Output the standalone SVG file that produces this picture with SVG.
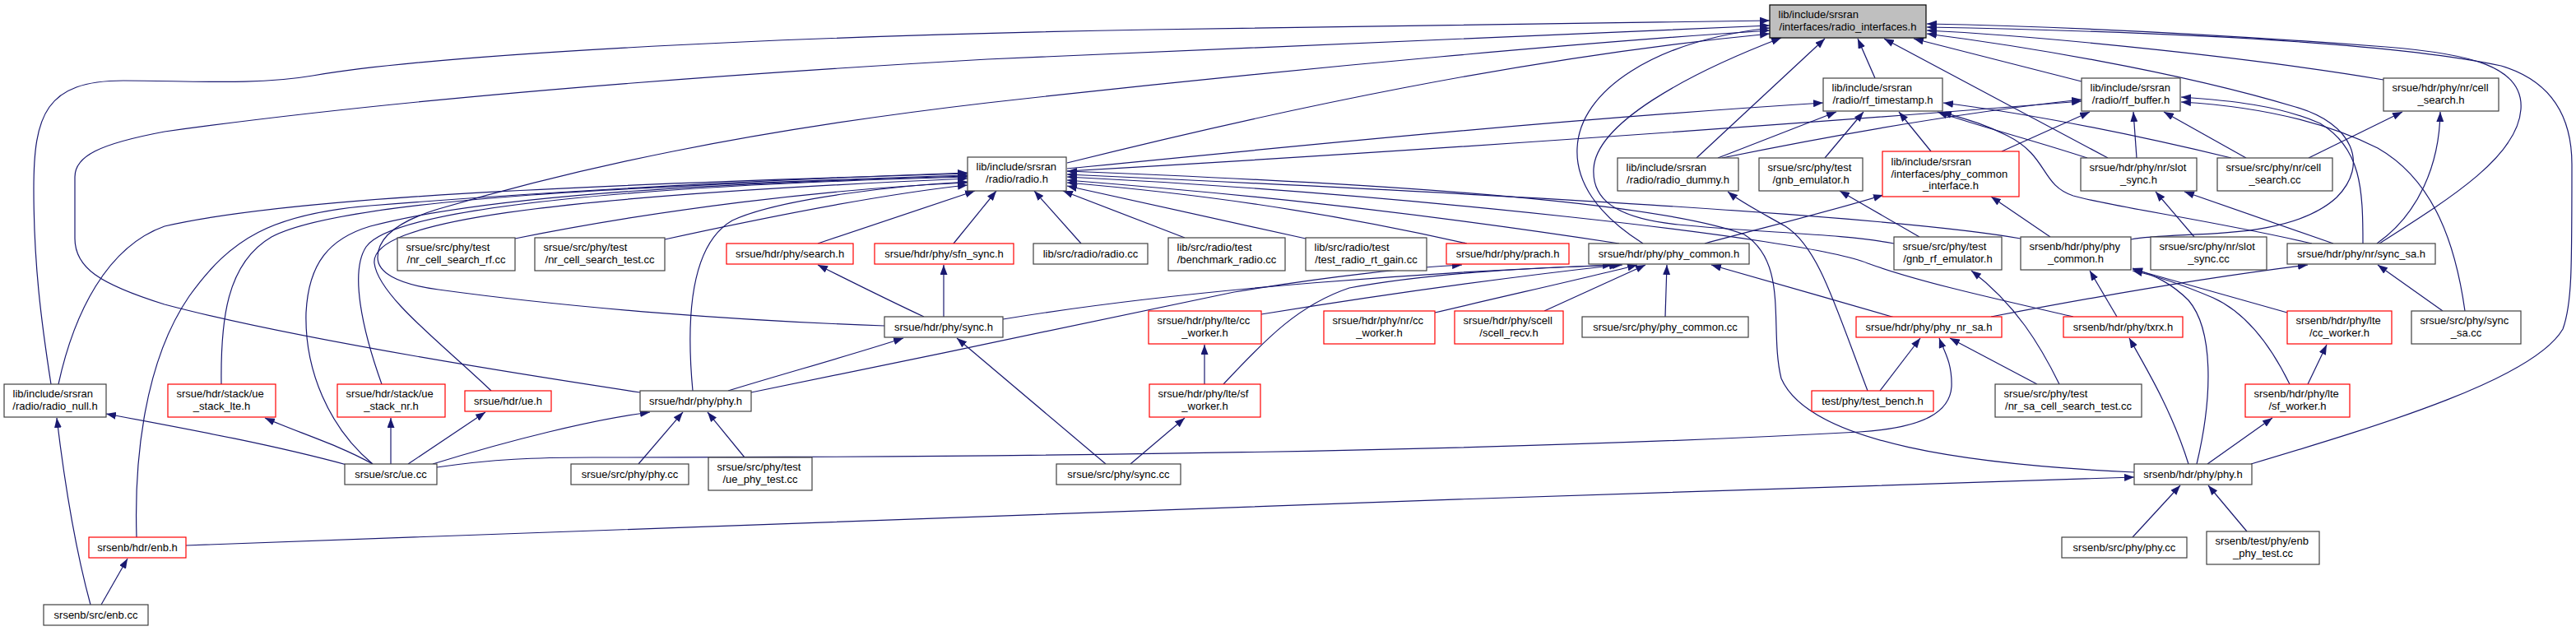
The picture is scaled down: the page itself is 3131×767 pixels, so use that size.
<svg xmlns="http://www.w3.org/2000/svg" width="3131" height="767" viewBox="0 0 3131 767">
<style>
.node rect{fill:#fff;stroke:#404040;stroke-width:1.2}
.node.red rect{stroke:#ff0000}
.node.root rect{fill:#bfbfbf;stroke:#000}
.node text{font-family:"Liberation Sans",Arial,sans-serif;font-size:13px;fill:#000}
.l{text-anchor:start}
.c{text-anchor:middle}
#edges path{fill:none;stroke:#191970;stroke-width:1.2;marker-end:url(#a)}
</style>
<defs>
<marker id="a" markerUnits="userSpaceOnUse" markerWidth="12" markerHeight="9" viewBox="0 0 12 9" refX="12" refY="4.5" orient="auto"><path d="M0,0L12,4.5L0,9z" fill="#191970"/></marker>
</defs>
<rect width="3131" height="767" fill="#fff"/>
<g id="edges">
<path d="M62,467 C50,390 41,320 41,230 C41,140 55,98 150,98 C230,98 310,104 380,92 C520,68 900,45 1400,36 C1800,30 2000,27 2151,25"/>
<path d="M778,477 C600,450 350,410 200,370 C120,345 91,325 91,290 L91,215 C91,190 120,175 200,160 C450,125 800,95 1200,72 C1600,52 1950,38 2151,31"/>
<path d="M1075,396 C900,390 700,375 533,352 C480,345 459,330 459,313 C459,290 480,270 533,254 C700,205 900,160 1200,125 C1600,80 1950,50 2151,37"/>
<path d="M1297,198 C1550,135 1850,70 2151,41"/>
<path d="M1997,296 C1940,260 1915,220 1917,180 C1920,110 2010,50 2151,34"/>
<path d="M2302,296 C2240,284 2140,283 2040,273 C1960,265 1935,240 1937,205 C1940,150 2050,90 2165,46"/>
<path d="M2062,192 L2218,47"/>
<path d="M2279,95 L2258,47"/>
<path d="M2562,192 L2290,47"/>
<path d="M2530,99 L2326,47"/>
<path d="M2897,97 C2750,72 2500,45 2342,37"/>
<path d="M2590,291 C2650,280 2780,295 2840,240 C2880,200 2860,150 2790,130 C2640,85 2450,55 2342,41"/>
<path d="M2892,296 C2980,240 3060,190 3064,133 C3068,80 3000,65 2900,57 C2700,42 2500,32 2342,29"/>
<path d="M2736,564 C2900,515 3080,460 3115,400 C3126,370 3126,330 3126,200 C3126,130 3090,95 3040,80 C2900,50 2600,38 2342,33"/>
<path d="M1297,205 C1600,175 1900,145 2216,125"/>
<path d="M2088,192 L2232,136"/>
<path d="M2218,192 L2265,136"/>
<path d="M2347,184 L2308,136"/>
<path d="M2537,192 C2470,170 2410,155 2355,136"/>
<path d="M2810,296 C2700,270 2560,250 2520,238 C2480,225 2490,190 2440,165 C2410,150 2390,145 2360,136"/>
<path d="M2712,192 C2600,165 2480,140 2362,125"/>
<path d="M1297,208 C1700,185 2200,150 2530,123"/>
<path d="M2093,192 C2250,160 2400,135 2530,121"/>
<path d="M2433,184 L2540,136"/>
<path d="M2597,192 L2593,136"/>
<path d="M2730,192 L2630,136"/>
<path d="M2872,296 C2872,230 2870,180 2820,150 C2770,128 2710,122 2651,118"/>
<path d="M2996,378 C2985,300 2960,220 2890,180 C2810,140 2720,128 2651,124"/>
<path d="M2806,192 L2920,136"/>
<path d="M2889,296 C2940,260 2965,200 2966,136"/>
<path d="M71,467 C90,380 130,300 200,275 C350,240 700,225 1176,211"/>
<path d="M269,467 C268,390 275,320 330,288 C420,240 800,225 1176,213"/>
<path d="M464,467 C440,400 425,330 445,300 C480,250 800,225 1176,215"/>
<path d="M597,475 C540,420 460,360 455,320 C450,270 650,240 1176,217"/>
<path d="M453,564 C400,520 370,450 372,380 C375,320 400,290 450,275 C600,235 900,222 1176,214"/>
<path d="M166,653 C163,560 175,440 230,360 C280,290 330,260 450,250 C700,230 950,218 1176,210"/>
<path d="M842,475 C835,400 835,300 890,268 C950,240 1100,225 1176,221"/>
<path d="M626,290 C800,255 1000,230 1176,222"/>
<path d="M808,291 C950,260 1080,235 1176,225"/>
<path d="M994,296 L1185,232"/>
<path d="M1159,296 L1211,232"/>
<path d="M1314,296 L1257,232"/>
<path d="M1440,289 L1292,232"/>
<path d="M1587,290 L1297,226"/>
<path d="M1783,296 C1600,255 1450,235 1297,222"/>
<path d="M1968,296 C1700,255 1500,235 1297,219"/>
<path d="M2456,290 C2300,262 1800,235 1297,212"/>
<path d="M2520,385 C2420,362 2330,342 2270,320 C2200,290 1700,235 1297,215"/>
<path d="M2594,574 C2400,565 2200,540 2165,460 C2150,400 2175,320 2120,285 C2000,240 1600,220 1297,208"/>
<path d="M2270,475 C2230,370 2210,300 2170,275 C2140,258 2115,245 2100,233"/>
<path d="M2333,288 L2236,232"/>
<path d="M2072,296 C2150,275 2220,258 2289,237"/>
<path d="M2492,288 L2420,239"/>
<path d="M2503,467 C2480,420 2450,370 2396,329"/>
<path d="M2573,385 L2540,329"/>
<path d="M2780,380 L2592,327"/>
<path d="M2670,564 C2690,480 2690,400 2660,365 C2640,345 2620,335 2592,326"/>
<path d="M2783,467 C2760,420 2730,380 2690,362 C2650,345 2620,335 2592,329"/>
<path d="M1219,388 C1450,350 1750,330 1960,322"/>
<path d="M1533,382 C1700,355 1850,335 1968,322"/>
<path d="M1487,467 C1540,410 1580,370 1640,350 C1750,330 1880,325 1972,322"/>
<path d="M1744,380 C1850,355 1940,335 1990,322"/>
<path d="M1877,378 L2000,322"/>
<path d="M2024,385 L2026,322"/>
<path d="M2303,386 C2230,365 2150,342 2080,322"/>
<path d="M1147,385 L1147,322"/>
<path d="M1123,385 C1080,365 1030,340 994,322"/>
<path d="M913,477 C1100,440 1350,385 1500,355 C1620,335 1720,325 1777,322"/>
<path d="M885,475 C950,455 1040,430 1098,411"/>
<path d="M1344,564 L1163,411"/>
<path d="M1374,564 L1440,508"/>
<path d="M1464,467 L1464,419"/>
<path d="M526,564 C620,535 720,510 790,501"/>
<path d="M776,564 L830,501"/>
<path d="M905,556 L860,501"/>
<path d="M425,566 C330,540 220,520 129,503"/>
<path d="M110,735 C95,680 80,600 69,508"/>
<path d="M453,564 C410,540 360,525 322,508"/>
<path d="M475,564 L475,508"/>
<path d="M496,564 L590,501"/>
<path d="M531,568 C600,558 650,556 720,556 C1200,556 1800,550 2260,525 C2340,520 2370,500 2372,470 C2373,440 2362,425 2357,411"/>
<path d="M2285,475 L2334,411"/>
<path d="M2476,467 L2370,411"/>
<path d="M2420,385 C2550,360 2700,335 2805,322"/>
<path d="M2969,378 L2890,322"/>
<path d="M2667,288 L2620,233"/>
<path d="M2836,296 L2655,233"/>
<path d="M2660,564 C2640,500 2610,450 2588,411"/>
<path d="M2805,467 L2828,419"/>
<path d="M2683,564 L2762,508"/>
<path d="M226,663 C800,640 1800,605 2594,580"/>
<path d="M2592,653 L2650,590"/>
<path d="M2731,646 L2684,590"/>
<path d="M123,735 L155,679"/>
</g>
<g id="n1" class="node root"><rect x="2151" y="6" width="190" height="40"/><text class="l" x="2161.5" y="22">lib/include/srsran</text><text class="c" x="2246" y="37">/interfaces/radio_interfaces.h</text></g>
<g id="n2" class="node"><rect x="2216" y="95" width="145" height="40"/><text class="l" x="2226.5" y="111">lib/include/srsran</text><text class="c" x="2288.5" y="126">/radio/rf_timestamp.h</text></g>
<g id="n3" class="node"><rect x="2530" y="95" width="120" height="40"/><text class="l" x="2540.5" y="111">lib/include/srsran</text><text class="c" x="2590" y="126">/radio/rf_buffer.h</text></g>
<g id="n4" class="node"><rect x="2897" y="95" width="140" height="40"/><text class="l" x="2907.5" y="111">srsue/hdr/phy/nr/cell</text><text class="c" x="2967" y="126">_search.h</text></g>
<g id="n5" class="node"><rect x="1176" y="191" width="120" height="41"/><text class="l" x="1186.5" y="207">lib/include/srsran</text><text class="c" x="1236" y="222">/radio/radio.h</text></g>
<g id="n6" class="node"><rect x="1966" y="192" width="147" height="40"/><text class="l" x="1976.5" y="208">lib/include/srsran</text><text class="c" x="2039.5" y="223">/radio/radio_dummy.h</text></g>
<g id="n7" class="node"><rect x="2138" y="192" width="126" height="40"/><text class="l" x="2148.5" y="208">srsue/src/phy/test</text><text class="c" x="2201" y="223">/gnb_emulator.h</text></g>
<g id="n8" class="node red"><rect x="2288" y="184" width="166" height="55"/><text class="l" x="2298.5" y="201">lib/include/srsran</text><text class="l" x="2298.5" y="215.5">/interfaces/phy_common</text><text class="c" x="2371" y="230">_interface.h</text></g>
<g id="n9" class="node"><rect x="2529" y="192" width="141" height="40"/><text class="l" x="2539.5" y="208">srsue/hdr/phy/nr/slot</text><text class="c" x="2599.5" y="223">_sync.h</text></g>
<g id="n10" class="node"><rect x="2695" y="192" width="140" height="40"/><text class="l" x="2705.5" y="208">srsue/src/phy/nr/cell</text><text class="c" x="2765" y="223">_search.cc</text></g>
<g id="n11" class="node"><rect x="483" y="289" width="143" height="40"/><text class="l" x="493.5" y="305">srsue/src/phy/test</text><text class="c" x="554.5" y="320">/nr_cell_search_rf.cc</text></g>
<g id="n12" class="node"><rect x="650" y="289" width="158" height="40"/><text class="l" x="660.5" y="305">srsue/src/phy/test</text><text class="c" x="729" y="320">/nr_cell_search_test.cc</text></g>
<g id="n13" class="node red"><rect x="883" y="296" width="154" height="25"/><text class="c" x="960" y="313">srsue/hdr/phy/search.h</text></g>
<g id="n14" class="node red"><rect x="1063" y="296" width="169" height="25"/><text class="c" x="1147.5" y="313">srsue/hdr/phy/sfn_sync.h</text></g>
<g id="n15" class="node"><rect x="1256" y="296" width="139" height="25"/><text class="c" x="1325.5" y="313">lib/src/radio/radio.cc</text></g>
<g id="n16" class="node"><rect x="1420" y="289" width="142" height="40"/><text class="l" x="1430.5" y="305">lib/src/radio/test</text><text class="c" x="1491" y="320">/benchmark_radio.cc</text></g>
<g id="n17" class="node"><rect x="1587" y="289" width="147" height="40"/><text class="l" x="1597.5" y="305">lib/src/radio/test</text><text class="c" x="1660.5" y="320">/test_radio_rt_gain.cc</text></g>
<g id="n18" class="node red"><rect x="1758" y="296" width="149" height="25"/><text class="c" x="1832.5" y="313">srsue/hdr/phy/prach.h</text></g>
<g id="n19" class="node"><rect x="1931" y="296" width="195" height="25"/><text class="c" x="2028.5" y="313">srsue/hdr/phy/phy_common.h</text></g>
<g id="n20" class="node"><rect x="2302" y="288" width="131" height="40"/><text class="l" x="2312.5" y="304">srsue/src/phy/test</text><text class="c" x="2367.5" y="319">/gnb_rf_emulator.h</text></g>
<g id="n21" class="node"><rect x="2456" y="288" width="134" height="40"/><text class="l" x="2466.5" y="304">srsenb/hdr/phy/phy</text><text class="c" x="2523" y="319">_common.h</text></g>
<g id="n22" class="node"><rect x="2614" y="288" width="141" height="40"/><text class="l" x="2624.5" y="304">srsue/src/phy/nr/slot</text><text class="c" x="2684.5" y="319">_sync.cc</text></g>
<g id="n23" class="node"><rect x="2780" y="296" width="180" height="25"/><text class="c" x="2870" y="313">srsue/hdr/phy/nr/sync_sa.h</text></g>
<g id="n24" class="node"><rect x="1075" y="385" width="144" height="25"/><text class="c" x="1147" y="402">srsue/hdr/phy/sync.h</text></g>
<g id="n25" class="node red"><rect x="1396" y="378" width="137" height="40"/><text class="l" x="1406.5" y="394">srsue/hdr/phy/lte/cc</text><text class="c" x="1464.5" y="409">_worker.h</text></g>
<g id="n26" class="node red"><rect x="1609" y="378" width="135" height="40"/><text class="l" x="1619.5" y="394">srsue/hdr/phy/nr/cc</text><text class="c" x="1676.5" y="409">_worker.h</text></g>
<g id="n27" class="node red"><rect x="1768" y="378" width="132" height="40"/><text class="l" x="1778.5" y="394">srsue/hdr/phy/scell</text><text class="c" x="1834" y="409">/scell_recv.h</text></g>
<g id="n28" class="node"><rect x="1923" y="385" width="202" height="25"/><text class="c" x="2024" y="402">srsue/src/phy/phy_common.cc</text></g>
<g id="n29" class="node red"><rect x="2256" y="385" width="177" height="25"/><text class="c" x="2344.5" y="402">srsue/hdr/phy/phy_nr_sa.h</text></g>
<g id="n30" class="node red"><rect x="2508" y="385" width="145" height="25"/><text class="c" x="2580.5" y="402">srsenb/hdr/phy/txrx.h</text></g>
<g id="n31" class="node red"><rect x="2780" y="378" width="127" height="40"/><text class="l" x="2790.5" y="394">srsenb/hdr/phy/lte</text><text class="c" x="2843.5" y="409">/cc_worker.h</text></g>
<g id="n32" class="node"><rect x="2931" y="378" width="133" height="40"/><text class="l" x="2941.5" y="394">srsue/src/phy/sync</text><text class="c" x="2997.5" y="409">_sa.cc</text></g>
<g id="n33" class="node"><rect x="5" y="467" width="124" height="40"/><text class="l" x="15.5" y="483">lib/include/srsran</text><text class="c" x="67" y="498">/radio/radio_null.h</text></g>
<g id="n34" class="node red"><rect x="204" y="467" width="131" height="40"/><text class="l" x="214.5" y="483">srsue/hdr/stack/ue</text><text class="c" x="269.5" y="498">_stack_lte.h</text></g>
<g id="n35" class="node red"><rect x="410" y="467" width="131" height="40"/><text class="l" x="420.5" y="483">srsue/hdr/stack/ue</text><text class="c" x="475.5" y="498">_stack_nr.h</text></g>
<g id="n36" class="node red"><rect x="565" y="475" width="105" height="25"/><text class="c" x="617.5" y="492">srsue/hdr/ue.h</text></g>
<g id="n37" class="node"><rect x="778" y="475" width="135" height="25"/><text class="c" x="845.5" y="492">srsue/hdr/phy/phy.h</text></g>
<g id="n38" class="node red"><rect x="1397" y="467" width="135" height="40"/><text class="l" x="1407.5" y="483">srsue/hdr/phy/lte/sf</text><text class="c" x="1464.5" y="498">_worker.h</text></g>
<g id="n39" class="node red"><rect x="2202" y="475" width="148" height="25"/><text class="c" x="2276" y="492">test/phy/test_bench.h</text></g>
<g id="n40" class="node"><rect x="2425" y="467" width="178" height="40"/><text class="l" x="2435.5" y="483">srsue/src/phy/test</text><text class="c" x="2514" y="498">/nr_sa_cell_search_test.cc</text></g>
<g id="n41" class="node red"><rect x="2729" y="467" width="127" height="40"/><text class="l" x="2739.5" y="483">srsenb/hdr/phy/lte</text><text class="c" x="2792.5" y="498">/sf_worker.h</text></g>
<g id="n42" class="node"><rect x="419" y="564" width="112" height="25"/><text class="c" x="475" y="581">srsue/src/ue.cc</text></g>
<g id="n43" class="node"><rect x="694" y="564" width="143" height="25"/><text class="c" x="765.5" y="581">srsue/src/phy/phy.cc</text></g>
<g id="n44" class="node"><rect x="861" y="556" width="126" height="40"/><text class="l" x="871.5" y="572">srsue/src/phy/test</text><text class="c" x="924" y="587">/ue_phy_test.cc</text></g>
<g id="n45" class="node"><rect x="1284" y="564" width="151" height="25"/><text class="c" x="1359.5" y="581">srsue/src/phy/sync.cc</text></g>
<g id="n46" class="node"><rect x="2594" y="564" width="143" height="25"/><text class="c" x="2665.5" y="581">srsenb/hdr/phy/phy.h</text></g>
<g id="n47" class="node red"><rect x="108" y="653" width="118" height="25"/><text class="c" x="167" y="670">srsenb/hdr/enb.h</text></g>
<g id="n48" class="node"><rect x="2506" y="653" width="152" height="25"/><text class="c" x="2582" y="670">srsenb/src/phy/phy.cc</text></g>
<g id="n49" class="node"><rect x="2682" y="646" width="137" height="40"/><text class="l" x="2692.5" y="662">srsenb/test/phy/enb</text><text class="c" x="2750.5" y="677">_phy_test.cc</text></g>
<g id="n50" class="node"><rect x="53" y="735" width="127" height="25"/><text class="c" x="116.5" y="752">srsenb/src/enb.cc</text></g>
</svg>
